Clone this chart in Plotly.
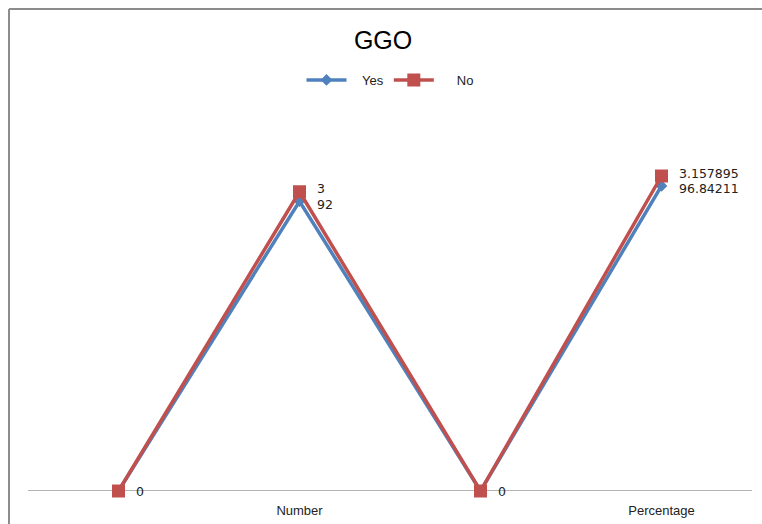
import plotly.graph_objects as go

# Categories along the x axis (two unlabeled slots between labeled ones)
categories = ["", "Number", "", "Percentage"]
yes_values = [0, 92, 0, 96.84211]
no_values = [0, 3, 0, 3.157895]
yes_labels = ["0", "92", "0", "96.84211"]
no_labels = ["0", "3", "0", "3.157895"]

BLUE = "#4F81BD"
RED = "#C0504D"

x = list(range(len(categories)))
# stacked line: "No" sits on top of "Yes"
no_stacked = [a + b for a, b in zip(yes_values, no_values)]

W, H = 762, 524
ML, MR, MT, MB = 28, 10, 113, 33
pw, ph = W - ML - MR, H - MT - MB


def px_x(p):
    return (p - ML) / pw


def px_y(p):
    return (H - MB - p) / ph


fig = go.Figure()

fig.add_trace(go.Scatter(
    x=x, y=yes_values, name="   Yes", mode="lines+markers",
    line=dict(color=BLUE, width=3.5),
    marker=dict(symbol="diamond", size=9, color=BLUE),
    cliponaxis=False,
))

fig.add_trace(go.Scatter(
    x=x, y=no_stacked, name="     No", mode="lines+markers",
    line=dict(color=RED, width=3.5),
    marker=dict(symbol="square", size=13, color=RED),
    cliponaxis=False,
))

label_font = dict(family="DejaVu Sans", size=12.5, color="#222222")
# value labels: "No" labels sit just above, "Yes" labels just below
for xi, yv, txt in zip(x, no_stacked, no_labels):
    fig.add_annotation(x=xi, y=yv, text=txt, showarrow=False,
                       xanchor="left", yanchor="middle",
                       xshift=15, yshift=3 if yv else 0, font=label_font)
for xi, yv, txt in zip(x, yes_values, yes_labels):
    if yv == 0:
        continue
    fig.add_annotation(x=xi, y=yv, text=txt, showarrow=False,
                       xanchor="left", yanchor="middle",
                       xshift=15, yshift=-3, font=label_font)

# outer chart frame (top and left edges)
frame = dict(color="#8C8C8C", width=2)
fig.add_shape(type="line", xref="paper", yref="paper",
              x0=px_x(9), x1=px_x(W + 5), y0=px_y(9), y1=px_y(9), line=frame)
fig.add_shape(type="line", xref="paper", yref="paper",
              x0=px_x(9), x1=px_x(9), y0=px_y(9), y1=px_y(H + 5), line=frame)

fig.update_layout(
    width=W, height=H,
    margin=dict(l=ML, r=MR, t=MT, b=MB, autoexpand=False),
    paper_bgcolor="white", plot_bgcolor="white",
    title=dict(text="GGO", x=px_x(392), xanchor="center",
               y=1 - 40 / H, yanchor="middle",
               font=dict(family="Liberation Sans", size=25, color="black")),
    legend=dict(orientation="h", x=0.5, xanchor="center",
                y=px_y(80), yanchor="middle",
                font=dict(family="Liberation Sans", size=13, color="#222222"),
                itemwidth=40, traceorder="normal", tracegroupgap=0),
    showlegend=True,
    xaxis=dict(range=[-0.5, len(categories) - 0.5],
               tickvals=x, ticktext=categories, automargin=False,
               showgrid=False, zeroline=False,
               showline=False, ticks="", ticklabelstandoff=10,
               tickfont=dict(family="Liberation Sans", size=13, color="#222222")),
    yaxis=dict(range=[0, 120], visible=False, showgrid=False, zeroline=False),
)

# horizontal category axis line at zero
fig.add_shape(type="line", xref="paper", yref="y", x0=0, x1=1, y0=0, y1=0,
              line=dict(color="#9A9A9A", width=1.3), layer="below")

fig.write_html("out.html")
